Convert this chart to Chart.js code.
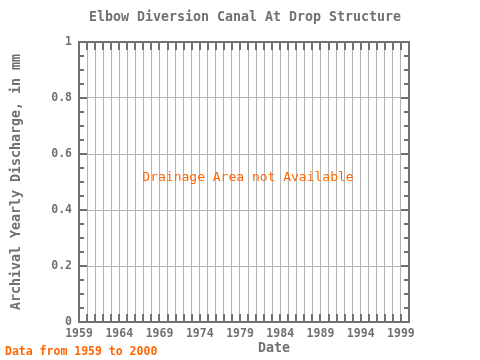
<!DOCTYPE html>
<html>
<head>
<meta charset="utf-8">
<script src="https://cdn.jsdelivr.net/npm/chart.js@4"></script>
<style>
  html, body { margin: 0; padding: 0; background: #fff; }
  #wrap { width: 480px; height: 360px; }
</style>
</head>
<body>
<div id="wrap"><canvas id="chart" width="480" height="360"></canvas></div>
<script>
"use strict";

// データなし (流域面積が不明)
const YEARS = [];
const DISCHARGE = [];
const X_MIN = 1959, X_MAX = 2000;
const Y_MIN = 0, Y_MAX = 1;
const X_LABEL_YEARS = [1959, 1964, 1969, 1974, 1979, 1984, 1989, 1994, 1999];

const TITLE = "Elbow Diversion Canal At Drop Structure";
const Y_TITLE = "Archival Yearly Discharge, in mm";
const X_TITLE = "Date";
const NOTE = "Drainage Area not Available";
const FOOTER = "Data from 1959 to 2000";

const GREY = "#707070";
const GRID = "#b4b4b4";
const ORANGE = "#ff6600";
const MONO = "'DejaVu Sans Mono', monospace";

// 枠線・内向き目盛り・テキスト
const framePlugin = {
  id: "frame",
  afterDraw(chart) {
    const { ctx, chartArea: a, scales } = chart;
    const xs = scales.x, ys = scales.y;
    ctx.save();
    ctx.strokeStyle = GREY;
    ctx.lineWidth = 2;
    ctx.beginPath();
    for (let yr = X_MIN; yr <= X_MAX; yr++) {
      const px = Math.round(xs.getPixelForValue(yr));
      ctx.moveTo(px, a.top); ctx.lineTo(px, a.top + 8);
      ctx.moveTo(px, a.bottom); ctx.lineTo(px, a.bottom - 8);
    }
    for (let i = 0; i <= 20; i++) {
      const v = i * 0.05;
      const py = Math.round(ys.getPixelForValue(v));
      const len = i % 4 === 0 ? 8 : 5;
      ctx.moveTo(a.left, py); ctx.lineTo(a.left + len, py);
      ctx.moveTo(a.right, py); ctx.lineTo(a.right - len, py);
    }
    ctx.stroke();
    ctx.strokeRect(a.left, a.top, a.right - a.left, a.bottom - a.top);

    ctx.fillStyle = GREY;
    ctx.textAlign = "center";
    ctx.textBaseline = "middle";
    ctx.font = "bold 13.3px " + MONO;
    ctx.fillText(TITLE, 245, 18);
    ctx.fillText(X_TITLE, 274, 349);
    ctx.save();
    ctx.translate(17, 182);
    ctx.rotate(-Math.PI / 2);
    ctx.fillText(Y_TITLE, 0, 0);
    ctx.restore();

    ctx.fillStyle = ORANGE;
    ctx.font = "13px " + MONO;
    ctx.fillText(NOTE, 248, 178);
    ctx.textAlign = "left";
    ctx.font = "bold 11.5px " + MONO;
    ctx.fillText(FOOTER, 5, 352);
    ctx.restore();
  },
};

new Chart(document.getElementById("chart"), {
  type: "scatter",
  data: {
    datasets: [{
      data: YEARS.map((y, i) => ({ x: y, y: DISCHARGE[i] })),
      borderColor: ORANGE,
      backgroundColor: ORANGE,
    }],
  },
  options: {
    responsive: false,
    animation: false,
    layout: { padding: { top: 42, right: 71, bottom: 0, left: 0 } },
    plugins: { legend: { display: false }, title: { display: false }, tooltip: { enabled: false } },
    scales: {
      x: {
        type: "linear",
        min: X_MIN,
        max: X_MAX,
        afterFit: (s) => { s.height = 38; },
        afterBuildTicks: (s) => {
          const t = [];
          for (let yr = X_MIN; yr <= X_MAX; yr++) t.push({ value: yr });
          s.ticks = t;
        },
        ticks: {
          autoSkip: false,
          maxRotation: 0,
          padding: 5,
          color: GREY,
          font: { family: MONO, size: 11.5, weight: "bold" },
          callback: (v) => (X_LABEL_YEARS.includes(v) ? String(v) : ""),
        },
        grid: { color: GRID, lineWidth: 1, drawTicks: false },
        border: { display: false },
      },
      y: {
        min: Y_MIN,
        max: Y_MAX,
        afterFit: (s) => { s.width = 79; },
        ticks: {
          stepSize: 0.2,
          padding: 7,
          color: GREY,
          font: { family: MONO, size: 11.5, weight: "bold" },
          callback: (v) => String(Number(v.toFixed(1))),
        },
        grid: { color: GRID, lineWidth: 1, drawTicks: false },
        border: { display: false },
      },
    },
  },
  plugins: [framePlugin],
});
</script>
</body>
</html>
